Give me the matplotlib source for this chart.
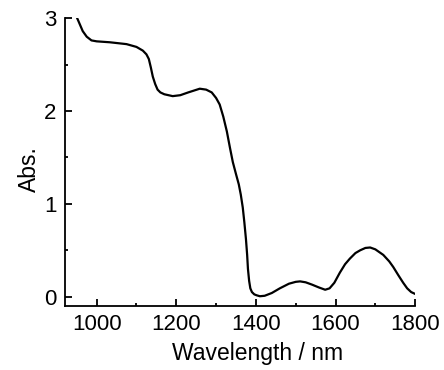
import matplotlib
matplotlib.use("Agg")
import matplotlib.pyplot as plt
from matplotlib.ticker import MultipleLocator

plt.rcParams['font.family'] = ['Liberation Sans', 'DejaVu Sans']

# spectrum
wavelength = [950, 958, 965, 975, 987, 1000, 1033, 1075, 1100, 1116, 1125, 1131,
              1136, 1141, 1147, 1153, 1160, 1170, 1191, 1210, 1230, 1259, 1275,
              1289, 1300, 1309, 1318, 1327, 1335, 1342, 1350, 1357, 1362, 1367,
              1371, 1375, 1378, 1380, 1383, 1386, 1390, 1396, 1402, 1410, 1422,
              1440, 1460, 1483, 1500, 1511, 1525, 1541, 1558, 1574, 1585, 1597,
              1611, 1624, 1636, 1650, 1662, 1675, 1687, 1700, 1720, 1735, 1745,
              1758, 1770, 1780, 1790, 1800]
absorbance = [3.01, 2.93, 2.86, 2.80, 2.76, 2.75, 2.74, 2.72, 2.69, 2.65, 2.61, 2.56,
              2.47, 2.37, 2.29, 2.23, 2.20, 2.18, 2.16, 2.17, 2.20, 2.24, 2.23,
              2.20, 2.14, 2.07, 1.94, 1.78, 1.60, 1.45, 1.32, 1.21, 1.10, 0.96,
              0.80, 0.62, 0.45, 0.30, 0.17, 0.09, 0.05, 0.025, 0.015, 0.005, 0.01,
              0.04, 0.09, 0.14, 0.16, 0.165, 0.155, 0.13, 0.10, 0.075, 0.09, 0.15,
              0.26, 0.35, 0.41, 0.47, 0.50, 0.525, 0.53, 0.51, 0.45, 0.38, 0.32,
              0.23, 0.15, 0.09, 0.05, 0.03]

x_ticks = [1000, 1200, 1400, 1600, 1800]
y_ticks = [0, 1, 2, 3]

fig = plt.figure(figsize=(4.44, 3.70), dpi=100)
ax = fig.add_axes([0.146, 0.173, 0.789, 0.778])

ax.plot(wavelength, absorbance, color='black', lw=1.6)

ax.set_xlim(920, 1800)
ax.set_ylim(-0.1, 3.0)
ax.set_xticks(x_ticks)
ax.set_yticks(y_ticks)
ax.xaxis.set_minor_locator(MultipleLocator(100))
ax.yaxis.set_minor_locator(MultipleLocator(0.5))

for side in ['top', 'right']:
    ax.spines[side].set_visible(False)
for side in ['left', 'bottom']:
    ax.spines[side].set_linewidth(1.3)

ax.tick_params(which='major', direction='in', length=5, width=1.3, labelsize=16, pad=6)
ax.tick_params(which='minor', direction='in', length=2.5, width=1.3)

ax.set_xlabel('Wavelength / nm', fontsize=16.5)
ax.set_ylabel('Abs.', fontsize=16.5)
ax.xaxis.set_label_coords(0.549, -0.125)
ax.yaxis.set_label_coords(-0.069, 0.475)

fig.savefig('out.png', dpi=100)
